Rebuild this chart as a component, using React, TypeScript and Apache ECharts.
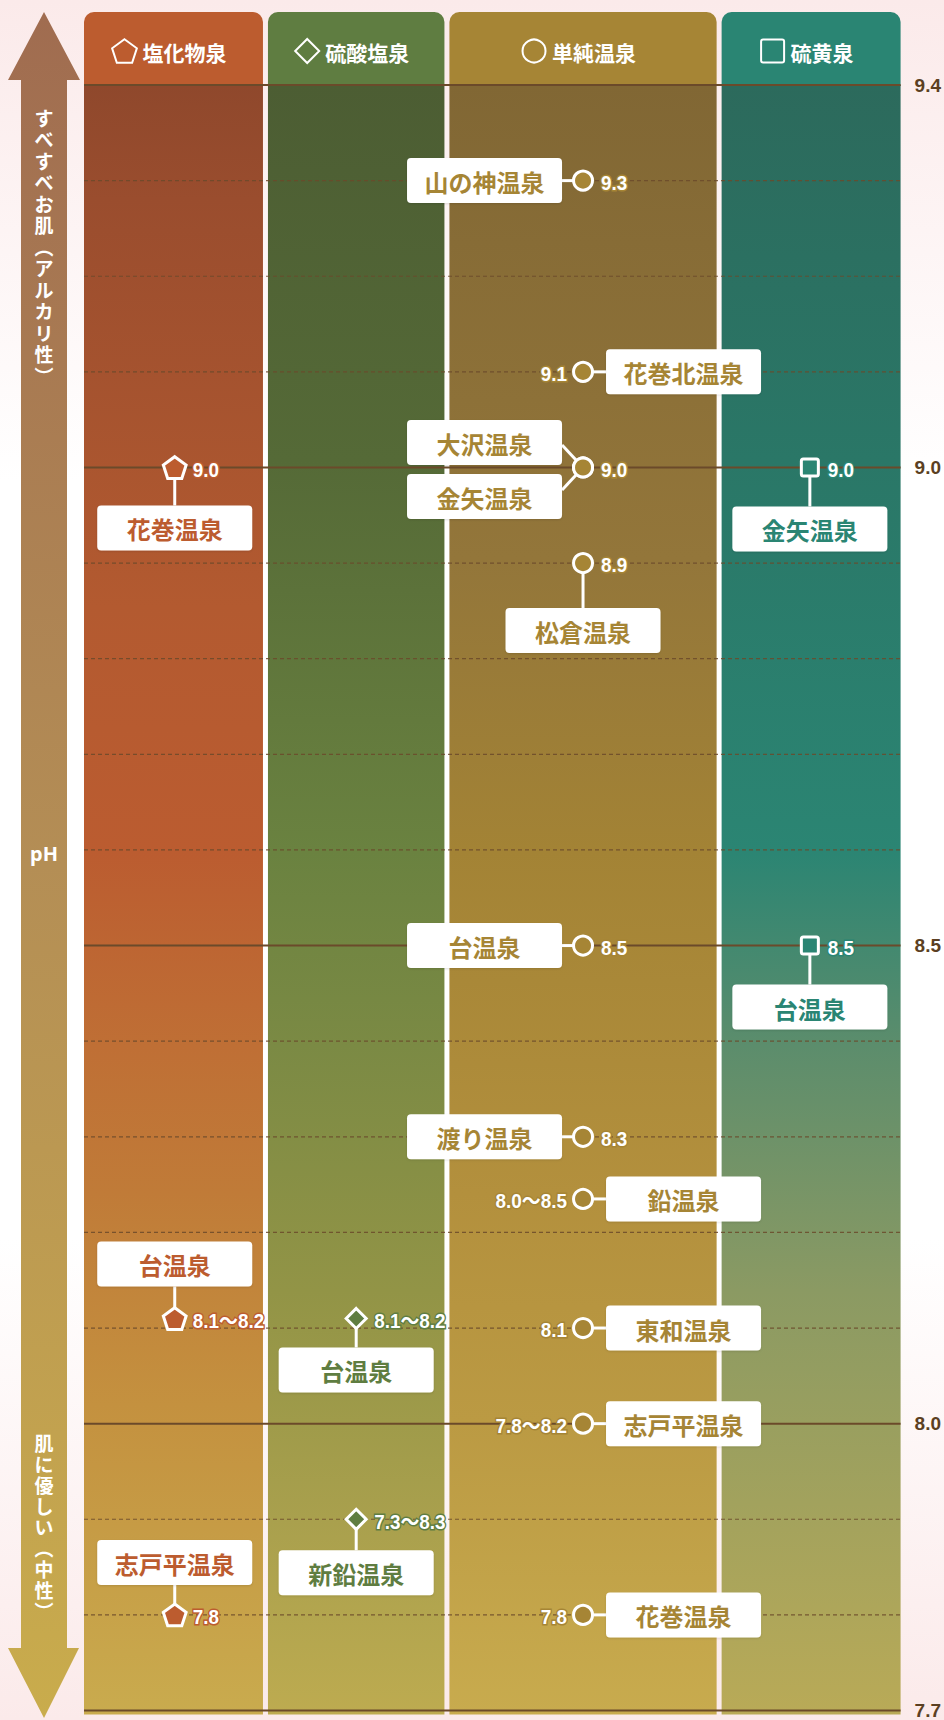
import React, { useEffect, useRef } from 'react';
import * as echarts from 'echarts';

// ---- data ----
const categories = ['塩化物泉', '硫酸塩泉', '単純温泉', '硫黄泉'];
const categoryShapes = ['pentagon', 'diamond', 'circle', 'square'];

const springNames = [
  '花巻温泉', '台温泉', '志戸平温泉',
  '台温泉', '新鉛温泉',
  '山の神温泉', '花巻北温泉', '大沢温泉', '金矢温泉', '松倉温泉', '台温泉', '渡り温泉', '鉛温泉', '東和温泉', '志戸平温泉', '花巻温泉',
  '金矢温泉', '台温泉',
];
const springCategory = [0, 0, 0, 1, 1, 2, 2, 2, 2, 2, 2, 2, 2, 2, 2, 2, 3, 3];
const springPh = [9.0, 8.11, 7.8, 8.11, 7.9, 9.3, 9.1, 9.0, 9.0, 8.9, 8.5, 8.3, 8.235, 8.1, 8.0, 7.8, 9.0, 8.5];
const springPhText = [
  '9.0', '8.1～8.2', '7.8',
  '8.1～8.2', '7.3～8.3',
  '9.3', '9.1', '9.0', '9.0', '8.9', '8.5', '8.3', '8.0～8.5', '8.1', '7.8～8.2', '7.8',
  '9.0', '8.5',
];

const yMajorTicks = [9.4, 9.0, 8.5, 8.0, 7.7];
const yMinorTicks = [9.3, 9.2, 9.1, 8.9, 8.8, 8.7, 8.6, 8.4, 8.3, 8.2, 8.1, 7.9, 7.8];

const topArrowText = 'すべすべお肌︵アルカリ性︶';
const bottomArrowText = '肌に優しい︵中性︶';
const midArrowText = 'pH';

// ---- layout / style ----
const categoryWidths = [1, 1, 1.5, 1];
const categoryColors = ['#bc5c2f', '#5f7d41', '#a68535', '#2a8573'];
const columnStops = [
  [[0, '#8f482c'], [0.07, '#9a4d2e'], [0.32, '#b35a30'], [0.47, '#bb5c30'], [0.59, '#bf6f35'], [0.68, '#c07b38'], [0.81, '#c4913f'], [1, '#c9ab4e']],
  [[0, '#4c5d33'], [0.23, '#556a37'], [0.47, '#6a8240'], [0.59, '#7b8a44'], [0.74, '#929446'], [0.88, '#a9a04d'], [1, '#bdab50']],
  [[0, '#816734'], [0.29, '#93763a'], [0.47, '#a38335'], [0.68, '#b3903d'], [0.82, '#bb9a43'], [1, '#c8ab4e']],
  [[0, '#2c6a5c'], [0.23, '#2a7767'], [0.47, '#2b8573'], [0.59, '#5c8d6c'], [0.74, '#8b9a63'], [1, '#b9aa57']],
];
// label placement: side and gap between marker and box
const springPlacement = [
  'below', 'above', 'above',
  'below', 'below',
  'left', 'right', 'upLeft', 'downLeft', 'below', 'left', 'left', 'right', 'right', 'right', 'right',
  'below', 'below',
];
const springGap = [38, 32, 30, 29, 31, 0, 0, 0, 0, 45, 0, 0, 0, 0, 0, 0, 39, 39];

const FONT_JP = '"Noto Sans CJK JP", "Noto Sans", sans-serif';
const FONT_NUM = '"Liberation Sans", "Noto Sans CJK JP", sans-serif';
const LINE_COLOR = '#6b4a2a';

const Y_MIN = 7.7;
const Y_MAX = 9.4;

const colStart: number[] = [];
const colEnd: number[] = [];
{
  let acc = 0;
  categoryWidths.forEach((w) => {
    colStart.push(acc);
    acc += w;
    colEnd.push(acc);
  });
}
const X_MAX = colEnd[colEnd.length - 1];

function gradient(stops: any[]) {
  return {
    type: 'linear', x: 0, y: 0, x2: 0, y2: 1,
    colorStops: stops.map(([o, c]: any) => ({ offset: o, color: c })),
  };
}

function shapeEl(shape: string, cx: number, cy: number, r: number, style: any) {
  if (shape === 'circle') return { type: 'circle', shape: { cx, cy, r }, style };
  if (shape === 'square') return { type: 'rect', shape: { x: cx - r, y: cy - r, width: 2 * r, height: 2 * r, r: 2 }, style };
  if (shape === 'diamond') {
    return { type: 'polygon', shape: { points: [[cx, cy - r], [cx + r, cy], [cx, cy + r], [cx - r, cy]] }, style };
  }
  const pts: number[][] = [];
  for (let k = 0; k < 5; k++) {
    const a = ((-90 + 72 * k) * Math.PI) / 180;
    pts.push([cx + r * Math.cos(a), cy + r * Math.sin(a) + r * 0.1]);
  }
  return { type: 'polygon', shape: { points: pts }, style };
}

const markerSize: Record<string, number> = { pentagon: 12, diamond: 10, circle: 9.5, square: 8.5 };
const headerIconSize: Record<string, number> = { pentagon: 13, diamond: 12, circle: 11.5, square: 11.5 };

function verticalChars(text: string, x: number, y0: number, pitch: number, fs: number) {
  return text.split('').map((ch, k) => ({
    type: 'text',
    z: 1,
    style: {
      text: ch, x, y: y0 + k * pitch, align: 'center', verticalAlign: 'middle',
      fill: '#fff', fontSize: fs, fontWeight: 'bold', fontFamily: FONT_JP,
    },
  }));
}

export default function App() {
  const ref = useRef<HTMLDivElement>(null);

  useEffect(() => {
    document.body.style.margin = '0';
    document.body.style.overflow = 'hidden';
    if (!ref.current) return;
    const chart = echarts.init(ref.current, null, { renderer: 'svg' });

    const columnData = categories.map((_, i) => [colStart[i], colEnd[i], i]);
    const lineData = [
      ...yMinorTicks.map((v) => [0, v, 0]),
      ...yMajorTicks.map((v) => [0, v, 1]),
    ];
    const pointData = springNames.map((_, i) => {
      const c = springCategory[i];
      return [(colStart[c] + colEnd[c]) / 2, springPh[i], i];
    });

    const option: any = {
      animation: false,
      grid: { left: 84, right: 43, top: 85, bottom: 3, containLabel: false },
      xAxis: { type: 'value', min: 0, max: X_MAX, show: false },
      yAxis: {
        type: 'value',
        min: Y_MIN,
        max: Y_MAX,
        position: 'right',
        axisLine: { show: false },
        splitLine: { show: false },
        axisTick: {
          show: true,
          customValues: yMajorTicks,
          length: 9,
          lineStyle: { color: LINE_COLOR, width: 2 },
        },
        axisLabel: {
          customValues: yMajorTicks,
          formatter: (v: number) => v.toFixed(1),
          color: '#5b3f22',
          fontSize: 19,
          fontWeight: 'bold',
          fontFamily: FONT_NUM,
          margin: 14,
        },
      },
      graphic: [
        {
          type: 'polygon',
          z: 0,
          shape: {
            points: [
              [44, 12], [80, 80], [67, 80], [67, 1648], [79, 1648], [44, 1718],
              [8, 1648], [21, 1648], [21, 80], [8, 80],
            ],
          },
          style: { fill: gradient([[0, '#a06c50'], [0.5, '#b48e55'], [1, '#c9ac4c']]) },
        },
        ...verticalChars(topArrowText, 44, 117, 21.5, 19),
        {
          type: 'text',
          z: 1,
          style: {
            text: midArrowText,
            x: 44, y: 853, align: 'center', verticalAlign: 'middle',
            fill: '#fff', fontSize: 20, fontWeight: 'bold', fontFamily: '"Noto Sans", sans-serif',
          },
        },
        ...verticalChars(bottomArrowText, 44, 1442, 21, 19),
      ],
      series: [
        {
          type: 'custom',
          name: 'columns',
          z: 1,
          clip: false,
          data: columnData,
          renderItem: (params: any, api: any) => {
            const i = api.value(2);
            const p0 = api.coord([api.value(0), Y_MAX]);
            const p1 = api.coord([api.value(1), Y_MIN]);
            const left = p0[0] + (i === 0 ? 0 : 2.5);
            const right = p1[0] - (i === categories.length - 1 ? 0 : 2.5);
            const top = p0[1];
            const bottom = p1[1];
            const headerTop = top - 73;
            const color = categoryColors[i];
            const name = categories[i];
            const shape = categoryShapes[i];
            const fs = 21;
            const textW = name.length * fs;
            const iconW = 24;
            const totalW = iconW + 6 + textW;
            const startX = (left + right) / 2 - totalW / 2 - 4;
            const hy = headerTop + 39;
            return {
              type: 'group',
              children: [
                {
                  type: 'rect',
                  shape: { x: left, y: headerTop, width: right - left, height: top - headerTop + 1, r: [10, 10, 0, 0] },
                  style: { fill: color },
                },
                {
                  type: 'rect',
                  shape: { x: left, y: top, width: right - left, height: bottom - top + 4 },
                  style: { fill: gradient(columnStops[i]) },
                },
                shapeEl(shape, startX + iconW / 2, hy, headerIconSize[shape], { fill: 'none', stroke: '#fff', lineWidth: 2 }),
                {
                  type: 'text',
                  style: {
                    text: name, x: startX + iconW + 6, y: hy + 1, align: 'left', verticalAlign: 'middle',
                    fill: '#fff', fontSize: fs, fontWeight: 'bold', fontFamily: FONT_JP,
                  },
                },
              ],
            };
          },
        },
        {
          type: 'custom',
          name: 'gridlines',
          z: 2,
          data: lineData,
          renderItem: (params: any, api: any) => {
            const v = api.value(1);
            const major = api.value(2) === 1;
            const a = api.coord([0, v]);
            const b = api.coord([X_MAX, v]);
            return {
              type: 'line',
              shape: { x1: a[0], y1: a[1], x2: b[0], y2: b[1] },
              style: major
                ? { stroke: LINE_COLOR, lineWidth: 2 }
                : { stroke: LINE_COLOR, lineWidth: 1.2, lineDash: [4, 3], opacity: 0.85 },
            };
          },
        },
        {
          type: 'custom',
          name: 'springs',
          z: 3,
          clip: false,
          data: pointData,
          renderItem: (params: any, api: any) => {
            const i = api.value(2);
            const [cx, cy] = api.coord([api.value(0), api.value(1)]);
            const c = springCategory[i];
            const color = categoryColors[c];
            const shape = categoryShapes[c];
            const place = springPlacement[i];
            const gap = springGap[i];
            const BW = 155;
            const BH = 45;
            let bx = 0;
            let by = 0;
            let conn: number[][] = [];
            if (place === 'left') {
              bx = cx - 21 - BW; by = cy - BH / 2; conn = [[bx + BW, cy], [cx, cy]];
            } else if (place === 'right') {
              bx = cx + 23; by = cy - BH / 2; conn = [[bx, cy], [cx, cy]];
            } else if (place === 'below') {
              bx = cx - BW / 2; by = cy + gap; conn = [[cx, cy], [cx, by]];
            } else if (place === 'above') {
              bx = cx - BW / 2; by = cy - gap - BH; conn = [[cx, by + BH], [cx, cy]];
            } else if (place === 'upLeft') {
              bx = cx - 21 - BW; by = cy - 25 - BH / 2; conn = [[bx + BW, by + BH - 20], [cx, cy]];
            } else {
              bx = cx - 21 - BW; by = cy + 29 - BH / 2; conn = [[bx + BW, by + 16], [cx, cy]];
            }
            const valRight = place === 'right';
            return {
              type: 'group',
              children: [
                {
                  type: 'line',
                  shape: { x1: conn[0][0], y1: conn[0][1], x2: conn[1][0], y2: conn[1][1] },
                  style: { stroke: '#fff', lineWidth: 3 },
                },
                {
                  type: 'rect',
                  shape: { x: bx, y: by, width: BW, height: BH, r: 4 },
                  style: { fill: '#fff', shadowBlur: 2, shadowColor: 'rgba(0,0,0,0.12)', shadowOffsetY: 1 },
                },
                {
                  type: 'text',
                  style: {
                    text: springNames[i], x: bx + BW / 2, y: by + BH / 2 + 1,
                    align: 'center', verticalAlign: 'middle',
                    fill: color, fontSize: 24, fontWeight: 'bold', fontFamily: FONT_JP,
                  },
                },
                shapeEl(shape, cx, cy, markerSize[shape], { fill: color, stroke: '#fff', lineWidth: 3 }),
                {
                  type: 'text',
                  x: valRight ? cx - 16 : cx + 18,
                  y: cy + 2,
                  scaleX: 0.9,
                  style: {
                    text: springPhText[i],
                    x: 0,
                    y: 0,
                    align: valRight ? 'right' : 'left',
                    verticalAlign: 'middle',
                    fill: '#fff', stroke: color, lineWidth: 3,
                    fontSize: 21, fontWeight: 'bold', fontFamily: FONT_NUM,
                  },
                },
              ],
            };
          },
        },
      ],
    };

    chart.setOption(option);
    return () => chart.dispose();
  }, []);

  return (
    <div
      style={{
        width: 944,
        height: 1720,
        overflow: 'hidden',
        position: 'relative',
        background: 'linear-gradient(to bottom, #fbeaea 0%, #ffffff 28%, #ffffff 72%, #fbeaea 100%)',
      }}
    >
      <div ref={ref} style={{ width: 944, height: 1720, overflow: 'hidden' }} />
    </div>
  );
}
